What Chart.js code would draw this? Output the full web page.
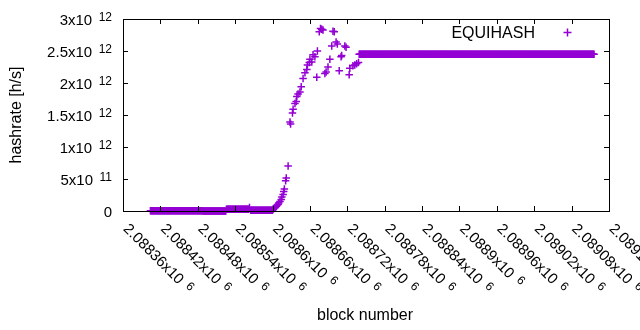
<!DOCTYPE html>
<html>
<head>
<meta charset="utf-8">
<script src="https://cdn.jsdelivr.net/npm/chart.js@4"></script>
<style>
  html, body { margin: 0; padding: 0; background: #fff; }
  canvas { display: block; }
</style>
</head>
<body>
<canvas id="hashChart" width="640" height="330"></canvas>
<script>
// constant stretches: one point per block from start to end, same value
const runStart = [2088404, 2088488, 2088526, 2088565, 2088739];
const runEnd   = [2088487, 2088525, 2088562, 2088600, 2089116];
const runValue = [0.005e12, 0, 0.028e12, 0.011e12, 2.45e12];

// the climb, read point by point
const rampBlocks = [
   2088563, 2088601, 2088602, 2088604, 2088606, 2088607, 2088609, 2088610, 2088612, 2088614,
   2088615, 2088617, 2088618, 2088619, 2088621, 2088622, 2088625, 2088628, 2088629, 2088632,
   2088633, 2088636, 2088638, 2088639, 2088641, 2088644, 2088646, 2088649, 2088652, 2088655,
   2088656, 2088659, 2088660, 2088663, 2088665, 2088668, 2088671, 2088672, 2088675, 2088677,
   2088679, 2088681, 2088684, 2088686, 2088689, 2088692, 2088695, 2088697, 2088699, 2088702,
   2088704, 2088707, 2088710, 2088711, 2088716, 2088718, 2088723, 2088724, 2088729, 2088732,
   2088735, 2088738
];
const rampValues = [
   0.055e12, 0.031e12, 0.039e12, 0.055e12, 0.070e12, 0.086e12, 0.102e12, 0.125e12, 0.148e12, 0.180e12,
   0.219e12, 0.258e12, 0.305e12, 0.344e12, 0.473e12, 0.516e12, 0.703e12, 1.39e12, 1.36e12, 1.53e12,
   1.59e12, 1.68e12, 1.71e12, 1.79e12, 1.83e12, 1.86e12, 1.94e12, 2.07e12, 2.16e12, 2.21e12,
   2.28e12, 2.32e12, 2.37e12, 2.33e12, 2.44e12, 2.41e12, 2.09e12, 2.50e12, 2.80e12, 2.85e12,
   2.84e12, 2.83e12, 2.15e12, 2.17e12, 2.25e12, 2.37e12, 2.58e12, 2.81e12, 2.80e12, 2.64e12,
   2.61e12, 2.19e12, 2.41e12, 2.43e12, 2.58e12, 2.56e12, 2.13e12, 2.23e12, 2.27e12, 2.28e12,
   2.30e12, 2.32e12
];

const xTickValues = [2088360, 2088420, 2088480, 2088540, 2088600, 2088660, 2088720,
                     2088780, 2088840, 2088900, 2088960, 2089020, 2089080, 2089140];
const xTickLabels = ["2.08836x10", "2.08842x10", "2.08848x10", "2.08854x10", "2.0886x10", "2.08866x10", "2.08872x10",
                     "2.08878x10", "2.08884x10", "2.0889x10", "2.08896x10", "2.08902x10", "2.08908x10", "2.08914x10"];
const xTickExp = "6";

const yTickValues = [0, 0.5e12, 1e12, 1.5e12, 2e12, 2.5e12, 3e12];
const yTickLabels = ["0", "5x10", "1x10", "1.5x10", "2x10", "2.5x10", "3x10"];
const yTickExp = ["", "11", "12", "12", "12", "12", "12"];

const seriesName = "EQUIHASH";
const purple = "#9400d3";

const points = [];
for (let i = 0; i < runStart.length; i++) {
   for (let b = runStart[i]; b <= runEnd[i]; b++) {
      points.push({ x: b, y: runValue[i] });
   }
}
rampBlocks.forEach((b, i) => points.push({ x: b, y: rampValues[i] }));

const FONT = '"Liberation Sans", Arial, sans-serif';
const TICK = 5;

// mantissa + raised exponent, gnuplot enhanced-text style
function drawSci(ctx, x, y, mant, exp, alignRight) {
   ctx.font = "15px " + FONT;
   const wb = ctx.measureText(mant).width;
   ctx.font = "12px " + FONT;
   const we = exp ? ctx.measureText(exp).width : 0;
   const gap = exp ? 6.5 : 0;
   const x0 = alignRight ? x - (wb + gap + we) : x;
   ctx.font = "15px " + FONT;
   ctx.fillText(mant, x0, y);
   if (exp) {
      ctx.font = "12px " + FONT;
      ctx.fillText(exp, x0 + wb + gap, y - 4);
   }
}

const gnuplotFrame = {
   id: "gnuplotFrame",
   afterDatasetsDraw(chart) {
      const { ctx, chartArea: a, scales: { x, y } } = chart;
      ctx.save();
      ctx.strokeStyle = "#000";
      ctx.lineWidth = 1;

      ctx.beginPath();
      yTickValues.forEach(v => {
         const py = Math.round(y.getPixelForValue(v)) + 0.5;
         ctx.moveTo(a.left, py); ctx.lineTo(a.left + TICK, py);
         ctx.moveTo(a.right, py); ctx.lineTo(a.right - TICK, py);
      });
      xTickValues.forEach(v => {
         const px = Math.round(x.getPixelForValue(v)) + 0.5;
         ctx.moveTo(px, a.bottom); ctx.lineTo(px, a.bottom - TICK);
         ctx.moveTo(px, a.top); ctx.lineTo(px, a.top + TICK);
      });
      ctx.stroke();
      ctx.strokeRect(a.left + 0.5, a.top + 0.5, a.right - a.left, a.bottom - a.top);

      ctx.fillStyle = "#000";
      ctx.textAlign = "left";
      ctx.textBaseline = "alphabetic";

      // y tick labels
      yTickValues.forEach((v, i) => {
         const py = y.getPixelForValue(v);
         drawSci(ctx, 112, py + 6, yTickLabels[i], yTickExp[i], true);
      });

      // x tick labels, rotated down-right
      xTickValues.forEach((v, i) => {
         const px = x.getPixelForValue(v);
         ctx.save();
         ctx.translate(px - 0.5, a.bottom + 18.5);
         ctx.rotate(Math.PI / 4);
         drawSci(ctx, 0, 0, xTickLabels[i], xTickExp, false);
         ctx.restore();
      });

      // axis titles
      ctx.font = "16px " + FONT;
      ctx.textAlign = "center";
      ctx.textBaseline = "middle";
      ctx.fillText("block number", (a.left + a.right) / 2 - 1, 316);
      ctx.save();
      ctx.translate(16.5, (a.top + a.bottom) / 2);
      ctx.rotate(-Math.PI / 2);
      ctx.fillText("hashrate [h/s]", 0, 0);
      ctx.restore();

      // key
      ctx.font = "16px " + FONT;
      ctx.textAlign = "right";
      ctx.textBaseline = "alphabetic";
      ctx.fillText(seriesName, 535, 37.5);
      ctx.strokeStyle = purple;
      ctx.lineWidth = 1.5;
      ctx.beginPath();
      ctx.moveTo(563.5, 32.5); ctx.lineTo(571.5, 32.5);
      ctx.moveTo(567.5, 28.5); ctx.lineTo(567.5, 36.5);
      ctx.stroke();

      ctx.restore();
   }
};

const chart = new Chart(document.getElementById("hashChart").getContext("2d"), {
   type: "scatter",
   data: {
      datasets: [{
         label: seriesName,
         data: points,
         pointStyle: "cross",
         pointRadius: 3.75,
         pointBorderWidth: 1.5,
         borderColor: purple,
         backgroundColor: purple,
         clip: false
      }]
   },
   options: {
      responsive: false,
      animation: false,
      layout: { padding: { left: 123, right: 31, top: 19, bottom: 119 } },
      plugins: { legend: { display: false }, tooltip: { enabled: false } },
      scales: {
         x: { type: "linear", display: false, min: 2088360, max: 2089140 },
         y: { type: "linear", display: false, min: 0, max: 3e12 }
      }
   },
   plugins: [gnuplotFrame]
});
</script>
</body>
</html>
